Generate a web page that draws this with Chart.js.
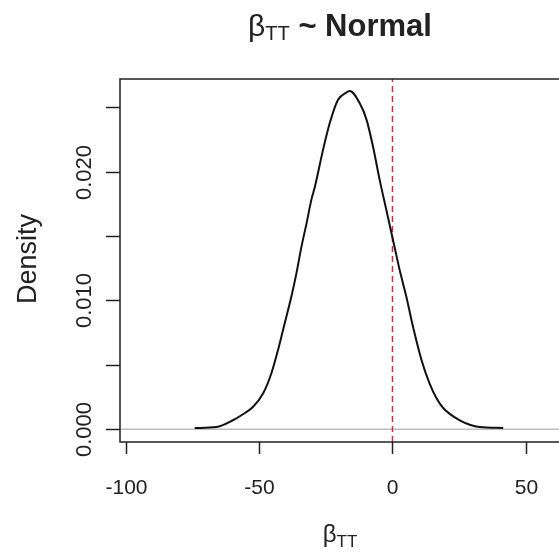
<!DOCTYPE html>
<html>
<head>
<meta charset="utf-8">
<script src="https://cdn.jsdelivr.net/npm/chart.js@4"></script>
<style>
  body { margin: 0; background: #fff; }
  canvas { display: block; }
</style>
</head>
<body>
<canvas id="chart" width="559" height="553"></canvas>
<script>
// density curve
const densityX = [-74.1, -66, -59.8, -56.6, -52.3, -48.5, -45.4, -42.9, -40.4, -37.9, -36, -34.1, -32.2, -30.4, -29.1,
  -26, -23.5, -20.4, -17.5, -16, -12.3, -9.7, -7.3, -4.8, -2.3, 0.2, 2.7, 5.2, 7.7, 10.9, 14, 16.5, 19, 25.2, 32.7, 41.5];
const densityY = [0.0001, 0.00018, 0.0007, 0.00109, 0.00173, 0.00277, 0.00433, 0.00614, 0.00821, 0.01028, 0.0121, 0.01417, 0.01598, 0.0178, 0.0188,
  0.0217, 0.02376, 0.02557, 0.0261, 0.02625, 0.02531, 0.02401, 0.02194, 0.01935, 0.01702, 0.01469, 0.01236, 0.01028, 0.00795, 0.00536, 0.0035, 0.0024, 0.00165, 0.0007, 0.00018, 0.0001];

const xTicks = [-100, -50, 0, 50];
const yTicks = [0, 0.005, 0.010, 0.015, 0.020, 0.025];
const yTickLabels = ['0.000', '', '0.010', '', '0.020', ''];
const refLineX = 0;

const X_MIN = -102.1, X_MAX = 62.4;
const Y_MIN = -0.000987, Y_MAX = 0.02718;

const FONT = '"Liberation Sans", Arial, sans-serif';

// R-style axes, box, title and labels
const rAxesPlugin = {
  id: 'rAxes',
  afterDraw(chart) {
    const { ctx, chartArea: a } = chart;
    const xs = chart.scales.x, ys = chart.scales.y;
    ctx.save();
    ctx.strokeStyle = '#222';
    ctx.lineWidth = 1.5;

    // box (right side falls outside the picture)
    ctx.beginPath();
    ctx.moveTo(a.right + 2, a.top);
    ctx.lineTo(a.left, a.top);
    ctx.lineTo(a.left, a.bottom);
    ctx.lineTo(a.right + 2, a.bottom);
    ctx.stroke();

    // x ticks
    ctx.fillStyle = '#222';
    ctx.font = '21px ' + FONT;
    ctx.textAlign = 'center';
    ctx.textBaseline = 'alphabetic';
    xTicks.forEach(v => {
      const px = Math.round(xs.getPixelForValue(v)) + 0.5;
      ctx.beginPath();
      ctx.moveTo(px, a.bottom);
      ctx.lineTo(px, a.bottom + 12);
      ctx.stroke();
      ctx.fillText(String(v), px, 494);
    });

    // y ticks, labels rotated
    ctx.font = '22px ' + FONT;
    yTicks.forEach((v, i) => {
      const py = Math.round(ys.getPixelForValue(v)) + 0.5;
      ctx.beginPath();
      ctx.moveTo(a.left - 14, py);
      ctx.lineTo(a.left, py);
      ctx.stroke();
      if (yTickLabels[i]) {
        ctx.save();
        ctx.translate(91, py);
        ctx.rotate(-Math.PI / 2);
        ctx.fillText(yTickLabels[i], 0, 0);
        ctx.restore();
      }
    });

    // y axis title
    ctx.save();
    ctx.font = '27px ' + FONT;
    ctx.translate(36, 259);
    ctx.rotate(-Math.PI / 2);
    ctx.fillText('Density', 0, 0);
    ctx.restore();

    // x axis title: beta with subscript TT
    const cx = 340;
    ctx.font = '24px ' + FONT;
    const wb = ctx.measureText('β').width;
    ctx.font = '17px ' + FONT;
    const ws = ctx.measureText('TT').width;
    let x0 = cx - (wb + ws) / 2;
    ctx.textAlign = 'left';
    ctx.font = '24px ' + FONT;
    ctx.fillText('β', x0, 542);
    ctx.font = '17px ' + FONT;
    ctx.fillText('TT', x0 + wb, 547);

    // main title
    ctx.font = '30px ' + FONT;
    const tb = ctx.measureText('β').width;
    ctx.font = '20px ' + FONT;
    const tt = ctx.measureText('TT').width;
    ctx.font = 'bold 31px ' + FONT;
    const tr = ctx.measureText(' ~ Normal').width;
    x0 = cx - (tb + tt + tr) / 2;
    ctx.font = '30px ' + FONT;
    ctx.fillText('β', x0, 36);
    ctx.font = '20px ' + FONT;
    ctx.fillText('TT', x0 + tb, 40);
    ctx.font = 'bold 31px ' + FONT;
    ctx.fillText(' ~ Normal', x0 + tb + tt, 36);

    ctx.restore();
  }
};

new Chart(document.getElementById('chart'), {
  type: 'line',
  data: {
    datasets: [
      {
        label: 'zero',
        data: [{ x: X_MIN, y: 0 }, { x: X_MAX, y: 0 }],
        borderColor: '#bdbdbd',
        borderWidth: 1.5,
        pointRadius: 0,
        order: 3
      },
      {
        label: 'density',
        data: densityX.map((x, i) => ({ x, y: densityY[i] })),
        borderColor: '#111',
        borderWidth: 2,
        pointRadius: 0,
        cubicInterpolationMode: 'monotone',
        order: 1
      },
      {
        label: 'ref',
        data: [{ x: refLineX, y: Y_MIN }, { x: refLineX, y: Y_MAX }],
        borderColor: '#d22d45',
        borderWidth: 1.5,
        borderDash: [6, 4],
        pointRadius: 0,
        order: 2
      }
    ]
  },
  options: {
    responsive: false,
    animation: false,
    layout: { padding: { left: 120, top: 79, right: 0, bottom: 111 } },
    scales: {
      x: { type: 'linear', display: false, min: X_MIN, max: X_MAX },
      y: { type: 'linear', display: false, min: Y_MIN, max: Y_MAX }
    },
    plugins: {
      legend: { display: false },
      tooltip: { enabled: false }
    }
  },
  plugins: [rAxesPlugin]
});
</script>
</body>
</html>
